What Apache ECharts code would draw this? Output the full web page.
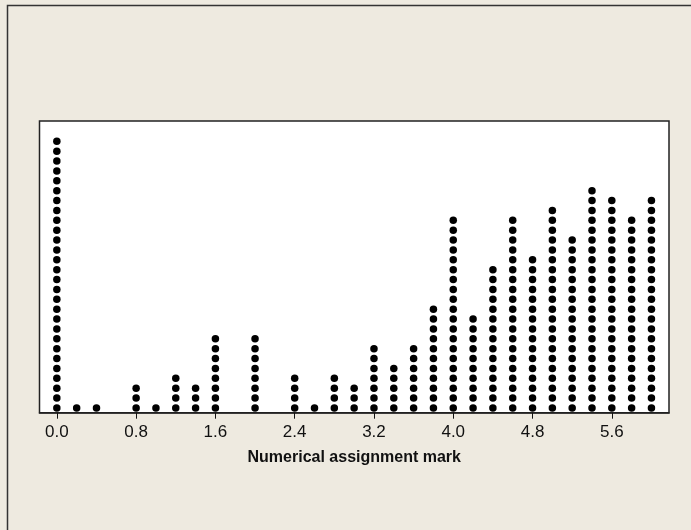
<!DOCTYPE html>
<html>
<head>
<meta charset="utf-8">
<script src="https://cdn.jsdelivr.net/npm/echarts@6/dist/echarts.min.js"></script>
<style>
html,body{margin:0;padding:0;background:#EEEAE0;}
#chart{width:691px;height:530px;}
</style>
</head>
<body>
<div id="chart"></div>
<script>
// Dot plot data: mark value and number of dots stacked at it
const markValues = [0.0, 0.2, 0.4, 0.8, 1.0, 1.2, 1.4, 1.6, 2.0, 2.4, 2.6, 2.8, 3.0, 3.2, 3.4, 3.6, 3.8, 4.0, 4.2, 4.4, 4.6, 4.8, 5.0, 5.2, 5.4, 5.6, 5.8, 6.0];
const dotCounts  = [28,  1,   1,   3,   1,   4,   3,   8,   8,   4,   1,   4,   3,   7,   5,   7,   11,  20,  10,  15,  20,  16,  21,  18,  23,  22,  20,  22];
const tickValues = [0.0, 0.8, 1.6, 2.4, 3.2, 4.0, 4.8, 5.6];
const axisTitle = 'Numerical assignment mark';

const points = [];
markValues.forEach(function (v, i) {
  for (let k = 1; k <= dotCounts[i]; k++) points.push([v, k]);
});

const chart = echarts.init(document.getElementById('chart'), null, {renderer: 'canvas'});
chart.setOption({
  backgroundColor: '#EEEAE0',
  animation: false,
  graphic: [{
    type: 'rect',
    shape: {x: 7.5, y: 5.5, width: 720, height: 600},
    style: {fill: 'none', stroke: '#333', lineWidth: 1.5},
    silent: true, z: 100
  }],
  grid: {
    left: 39.5, top: 121, right: 22, bottom: 117.3,
    show: true, backgroundColor: '#ffffff', borderColor: '#222', borderWidth: 1.5
  },
  xAxis: {
    type: 'value',
    min: -0.175, max: 6.177,
    splitLine: {show: false},
    axisLine: {show: true, onZero: false, lineStyle: {color: '#222', width: 1.5}},
    axisTick: {show: true, inside: false, length: 6, customValues: tickValues, lineStyle: {color: '#111', width: 1}},
    axisLabel: {
      customValues: tickValues, margin: 11,
      color: '#111', fontFamily: 'Liberation Sans Narrow, Liberation Sans, Arial, sans-serif', fontSize: 17,
      formatter: function (v) { return v.toFixed(1); }
    },
    name: axisTitle, nameLocation: 'middle', nameGap: 37,
    nameTextStyle: {color: '#111', fontFamily: 'Liberation Sans, Arial, sans-serif', fontSize: 16, fontWeight: 'bold'}
  },
  yAxis: {
    type: 'value', min: 0.524, max: 30.05, show: false,
    splitLine: {show: false}
  },
  series: [{
    type: 'scatter',
    data: points,
    symbol: 'circle',
    symbolSize: 7.5,
    itemStyle: {color: '#000', opacity: 1}
  }]
});
</script>
</body>
</html>
